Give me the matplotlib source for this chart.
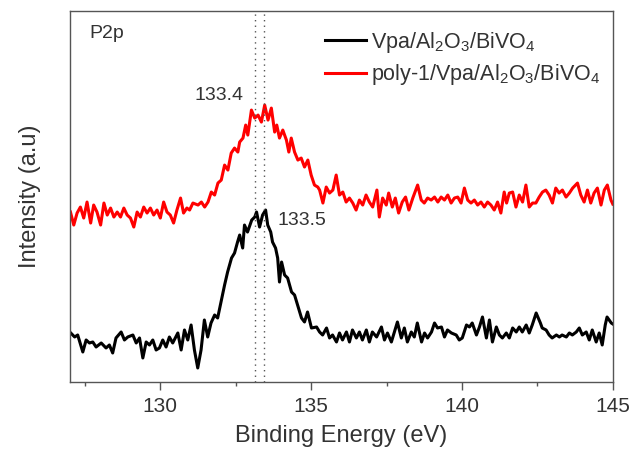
import matplotlib.pyplot as plt
from matplotlib.ticker import MultipleLocator

plt.rcParams['font.family'] = ['Liberation Sans', 'DejaVu Sans']
plt.rcParams['mathtext.default'] = 'regular'

# Vpa/Al2O3/BiVO4 (black)
be_black = [127.03, 127.16, 127.26, 127.43, 127.54, 127.65, 127.76, 127.87, 128.04, 128.20,
            128.31, 128.42, 128.53, 128.70, 128.81, 128.92, 129.09, 129.20, 129.31, 129.42,
            129.53, 129.64, 129.75, 129.86, 129.97, 130.08, 130.19, 130.30, 130.41, 130.58,
            130.69, 130.80, 130.91, 131.02, 131.13, 131.24, 131.35, 131.46, 131.57, 131.68,
            131.80, 131.90, 132.01, 132.13, 132.23, 132.36, 132.46, 132.56, 132.63, 132.73,
            132.79, 132.89, 133.03, 133.13, 133.19, 133.29, 133.39, 133.49, 133.56, 133.66,
            133.72, 133.82, 133.89, 133.95, 134.02, 134.12, 134.22, 134.35, 134.45, 134.55,
            134.68, 134.78, 134.88, 135.01, 135.18, 135.28, 135.38, 135.51, 135.61, 135.71,
            135.84, 135.94, 136.04, 136.17, 136.27, 136.37, 136.50, 136.60, 136.70, 136.83,
            136.93, 137.03, 137.17, 137.33, 137.43, 137.53, 137.66, 137.76, 137.86, 137.99,
            138.09, 138.19, 138.32, 138.42, 138.52, 138.66, 138.76, 138.86, 138.99, 139.09,
            139.19, 139.32, 139.42, 139.52, 139.65, 139.81, 139.91, 140.01, 140.15, 140.25,
            140.34, 140.48, 140.58, 140.68, 140.81, 140.91, 141.01, 141.14, 141.24, 141.34,
            141.47, 141.57, 141.68, 141.80, 141.90, 142.00, 142.13, 142.23, 142.33, 142.46,
            142.60, 142.66, 142.79, 142.89, 142.99, 143.13, 143.23, 143.32, 143.46, 143.56,
            143.66, 143.79, 143.89, 143.99, 144.12, 144.22, 144.32, 144.45, 144.55, 144.65,
            144.75, 144.81, 144.95, 145.00]
int_black = [49, 45, 47, 30, 42, 39, 40, 35, 39, 34,
             37, 29, 44, 50, 42, 45, 47, 39, 44, 24,
             40, 37, 42, 32, 34, 42, 35, 45, 39, 49,
             32, 52, 42, 57, 32, 14, 32, 62, 45, 59,
             67, 64, 80, 97, 110, 124, 129, 140, 147, 134,
             157, 150, 162, 165, 170, 155, 167, 172, 157, 150,
             140, 134, 124, 100, 120, 107, 104, 90, 87, 77,
             64, 60, 70, 54, 55, 50, 47, 54, 44, 47,
             40, 49, 42, 50, 40, 52, 44, 50, 42, 52,
             40, 50, 45, 55, 42, 49, 40, 50, 60, 44,
             54, 40, 50, 45, 59, 40, 49, 44, 50, 59,
             54, 55, 45, 52, 49, 47, 42, 44, 57, 55,
             59, 47, 55, 65, 44, 62, 40, 55, 47, 44,
             49, 44, 54, 50, 55, 50, 57, 49, 57, 69,
             59, 54, 52, 47, 44, 47, 45, 47, 45, 49,
             47, 50, 54, 47, 50, 42, 52, 40, 49, 37,
             57, 65, 59, 58]

# poly-1/Vpa/Al2O3/BiVO4 (red)
be_red = [127.02, 127.13, 127.24, 127.35, 127.46, 127.57, 127.69, 127.79, 127.90, 128.02,
          128.13, 128.24, 128.35, 128.46, 128.57, 128.68, 128.79, 128.90, 129.01, 129.12,
          129.23, 129.34, 129.45, 129.56, 129.67, 129.78, 129.89, 130.00, 130.11, 130.22,
          130.33, 130.44, 130.55, 130.67, 130.77, 130.88, 130.97, 131.08, 131.25, 131.36,
          131.47, 131.58, 131.69, 131.80, 131.91, 132.02, 132.13, 132.24, 132.35, 132.46,
          132.57, 132.63, 132.74, 132.83, 132.90, 133.02, 133.13, 133.24, 133.35, 133.46,
          133.57, 133.68, 133.79, 133.86, 133.95, 134.06, 134.18, 134.26, 134.34, 134.45,
          134.56, 134.67, 134.78, 134.89, 135.00, 135.11, 135.22, 135.28, 135.39, 135.50,
          135.61, 135.72, 135.83, 135.94, 136.05, 136.16, 136.27, 136.38, 136.49, 136.60,
          136.71, 136.82, 136.93, 137.04, 137.18, 137.26, 137.37, 137.49, 137.57, 137.69,
          137.79, 137.90, 138.02, 138.13, 138.24, 138.37, 138.53, 138.65, 138.75, 138.86,
          138.98, 139.09, 139.20, 139.31, 139.42, 139.53, 139.64, 139.75, 139.86, 139.97,
          140.08, 140.19, 140.30, 140.41, 140.52, 140.63, 140.74, 140.85, 140.96, 141.07,
          141.18, 141.29, 141.40, 141.48, 141.57, 141.68, 141.79, 141.90, 142.01, 142.12,
          142.23, 142.34, 142.45, 142.56, 142.67, 142.78, 142.89, 143.00, 143.11, 143.22,
          143.33, 143.45, 143.56, 143.67, 143.83, 143.94, 144.05, 144.16, 144.27, 144.38,
          144.49, 144.61, 144.72, 144.82, 144.94, 145.00]
int_red = [170, 157, 169, 175, 164, 180, 159, 177, 170, 157,
           179, 167, 174, 165, 170, 165, 174, 167, 164, 155,
           170, 165, 175, 169, 174, 167, 172, 164, 180, 170,
           167, 159, 172, 184, 169, 174, 172, 179, 177, 180,
           175, 180, 190, 187, 199, 202, 217, 212, 229, 234,
           230, 240, 244, 257, 247, 272, 264, 267, 260, 277,
           262, 274, 250, 257, 244, 252, 242, 230, 244, 230,
           222, 224, 215, 222, 207, 197, 195, 192, 179, 195,
           189, 192, 207, 187, 190, 180, 184, 179, 172, 182,
           177, 187, 180, 175, 192, 165, 184, 177, 189, 175,
           184, 169, 180, 185, 172, 184, 197, 182, 179, 184,
           182, 185, 180, 185, 182, 187, 179, 184, 185, 179,
           194, 182, 179, 182, 177, 180, 175, 180, 177, 172,
           180, 169, 190, 179, 189, 190, 175, 187, 180, 197,
           175, 179, 179, 185, 190, 192, 187, 179, 194, 189,
           192, 185, 189, 194, 199, 187, 180, 192, 179, 189,
           194, 177, 192, 197, 182, 178]

peak_lines = [133.15, 133.45]
text_col = '#333333'

fig = plt.figure(figsize=(6.35, 4.63), dpi=100)
ax = fig.add_axes([0.110, 0.175, 0.855, 0.801])

ax.plot(be_black, int_black, color='black', lw=2.2, label='Vpa/Al$_2$O$_3$/BiVO$_4$')
ax.plot(be_red, int_red, color='red', lw=2.2, label='poly-1/Vpa/Al$_2$O$_3$/BiVO$_4$')
for xv in peak_lines:
    ax.axvline(xv, color='#555555', lw=1, ls=(0, (1, 3)))

ax.set_xlim(127, 145)
ax.set_ylim(0, 371)
ax.xaxis.set_major_locator(MultipleLocator(5))
ax.xaxis.set_minor_locator(MultipleLocator(2.5))
ax.tick_params(axis='x', which='major', direction='out', length=6, width=1,
               labelsize=15, colors='#555555', labelcolor=text_col, pad=5)
ax.tick_params(axis='x', which='minor', direction='out', length=3, width=1, colors='#555555')
ax.set_yticks([])
for s in ax.spines.values():
    s.set_color('#555555')
    s.set_linewidth(1)

ax.set_xlabel('Binding Energy (eV)', fontsize=17, color=text_col, labelpad=6)
ax.set_ylabel('Intensity (a.u)', fontsize=17, color=text_col, labelpad=21)

ax.text(127.65, 349, 'P2p', fontsize=14, color=text_col, va='center')
ax.text(131.95, 287, '133.4', fontsize=14, color=text_col, ha='center', va='center')
ax.text(134.68, 162, '133.5', fontsize=14, color=text_col, ha='center', va='center')

leg = ax.legend(loc='upper right', frameon=False, fontsize=15.5, handlelength=1.9,
                handletextpad=0.2, borderaxespad=0.2, labelspacing=0.35,
                bbox_to_anchor=(1.0, 0.985))
for t in leg.get_texts():
    t.set_color(text_col)

fig.savefig('out.png', dpi=100)
